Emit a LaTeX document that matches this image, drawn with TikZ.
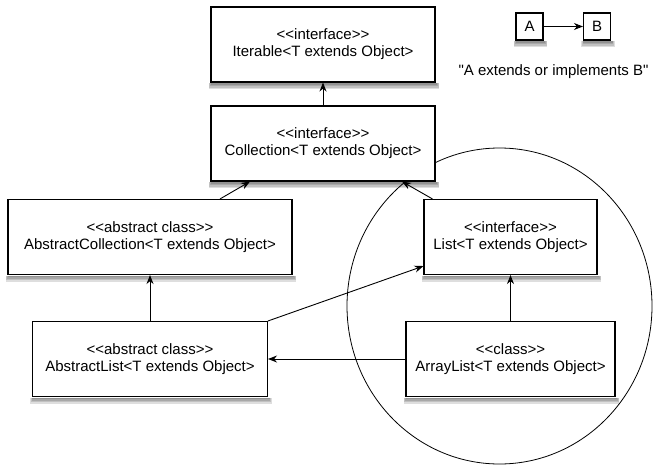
\documentclass[tikz,border=0pt]{standalone}
\usepackage{fontspec}
\setmainfont{Liberation Sans}[Ligatures=TeXOff]
\usetikzlibrary{arrows.meta,positioning}

\begin{document}
\begin{tikzpicture}[->, >={Stealth[length=9pt,width=7pt]}, x=1pt, y=-1pt, line width=0.9pt, on grid, font=\fontsize{15}{17}\selectfont]
\tikzstyle{classbox}=[draw=black, fill=white, line width=1.1pt, minimum height=75pt, align=center]
\tikzstyle{legendbox}=[classbox, minimum height=27pt, minimum width=27pt]
\useasboundingbox (0,0) rectangle (655,465);
% the group round List and ArrayList
\draw[-, line width=0.8pt] (499.5,306) ellipse (152.5 and 158);
\node[classbox, minimum width=224pt] (iter) at (323,44.5) {<<interface>>\\Iterable<T extends Object>};
\node[classbox, minimum width=224pt] (coll) [below=99pt of iter] {<<interface>>\\Collection<T extends Object>};
\node[classbox, minimum width=284pt] (abscoll) [below left=93.5pt and 173pt of coll] {<<abstract class>>\\AbstractCollection<T extends Object>};
\node[classbox, minimum width=173pt] (list) [below right=93.5pt and 187.5pt of coll] {<<interface>>\\List<T extends Object>};
\node[classbox, minimum width=235pt] (abslist) [below=122pt of abscoll] {<<abstract class>>\\AbstractList<T extends Object>};
\node[classbox, minimum width=209pt] (arrlist) [below=122pt of list] {<<class>>\\ArrayList<T extends Object>};
% legend
\node[legendbox] (legA) at (529.5,26.5) {A};
\node[legendbox] (legB) [right=67.5pt of legA] {B};
\node (legtext) at (553.5,72) {"A extends or implements B"};
% soft shadows under the boxes
\foreach \b in {iter,coll,abscoll,list,abslist,arrlist,legA,legB}
  \foreach \s in {2,3.5,5,6.5}
    \fill[black, opacity=0.13] ([xshift=1pt-0.4*\s pt,yshift=-0.6pt]\b.south west) rectangle ([xshift=1pt+0.4*\s pt,yshift=-\s pt]\b.south east);
\path
(coll) edge (iter)
([xshift=70pt]abscoll.north) edge ([xshift=-73pt]coll.south)
([xshift=9pt]list.north west) edge ([xshift=79pt]coll.south)
(abslist) edge (abscoll)
(abslist.north east) edge ([yshift=9pt]list.south west)
(arrlist) edge (list)
(arrlist) edge (abslist)
(legA) edge (legB);
\end{tikzpicture}
\end{document}
